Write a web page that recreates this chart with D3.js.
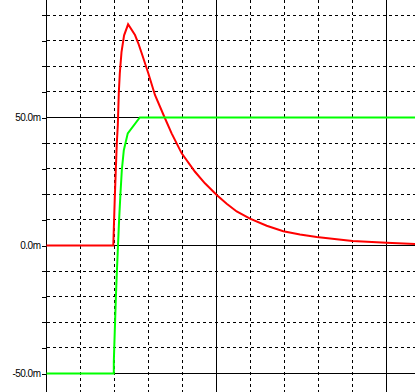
<!DOCTYPE html>
<html>
<head>
<meta charset="utf-8">
<script src="https://cdn.jsdelivr.net/npm/d3@7"></script>
<style>
body { margin: 0; background: #ffffff; }
</style>
</head>
<body>
<script>
//time values (in grid divisions) and voltages (mV) for the red trace
var redT = [0, 1.965, 1.974, 2.009, 2.038, 2.068, 2.097, 2.126, 2.156, 2.206, 2.282, 2.40,
            2.603, 2.70, 2.80, 2.994, 3.19, 3.465, 3.68, 3.976, 4.368, 4.66, 5.006, 5.30,
            5.594, 5.985, 6.476, 6.965, 7.456, 7.947, 8.47, 9.0, 10.0, 10.84];
var redV = [0, 0, 4.0, 18.9, 29.4, 40.0, 47.0, 59.5, 67.3, 75.5, 82.1, 86.4,
            82.2, 79.0, 75.1, 67.3, 58.8, 50.3, 43.8, 36.0, 28.8, 24.3, 19.7, 16.3,
            13.3, 10.5, 7.7, 5.6, 4.3, 3.3, 2.5, 1.8, 1.1, 0.6];

//time values and voltages for the green trace
var greenT = [0, 1.98, 1.98, 2.009, 2.038, 2.068, 2.097, 2.135, 2.176, 2.215, 2.274, 2.39, 2.744, 10.84];
var greenV = [-50, -50, -45.5, -33.0, -21.3, -10.7, -1.8, 9.9, 20.4, 29.4, 37.2, 43.8, 50, 50];

//labelled y ticks
var yTicks = [-50, 0, 50];
var yLabels = ["-50.0m", "0.0m", "50.0m"];

var width = 415;
var height = 392;

//pixel scales, one minor division is 34px wide and 10mV tall
var x = d3.scaleLinear()
  .domain([0, 10])
  .range([46.5, 386.5]);

var y = d3.scaleLinear()
  .domain([-50, 50])
  .range([373.5, 117.5]);

//snaps a coordinate to the pixel grid so the 1px lines stay sharp
function crisp(v) { return Math.round(v - 0.5) + 0.5; }

var svg = d3.select("body").append("svg")
  .attr("width", width)
  .attr("height", height);

//vertical grid lines, solid every 5 divisions
var xGrid = d3.range(0, 11);
svg.selectAll(".vgrid")
  .data(xGrid)
  .enter().append("line")
  .attr("class", "vgrid")
  .attr("x1", function(d) { return crisp(x(d)); })
  .attr("x2", function(d) { return crisp(x(d)); })
  .attr("y1", 0)
  .attr("y2", height)
  .style("stroke", "#000")
  .style("stroke-width", 1)
  .style("shape-rendering", "crispEdges")
  .style("stroke-dasharray", function(d) { return d % 5 == 0 ? null : "3,3"; });

//horizontal grid lines every 10mV, solid at the labelled ticks
var yGrid = d3.range(-50, 100, 10);
svg.selectAll(".hgrid")
  .data(yGrid)
  .enter().append("line")
  .attr("class", "hgrid")
  .attr("x1", x(0))
  .attr("x2", width)
  .attr("y1", function(d) { return crisp(y(d)); })
  .attr("y2", function(d) { return crisp(y(d)); })
  .style("stroke", "#000")
  .style("stroke-width", 1)
  .style("shape-rendering", "crispEdges")
  .style("stroke-dasharray", function(d) { return d % 50 == 0 ? null : "3,3"; });

//left axis with small ticks and labels
var yAxis = d3.axisLeft(y)
  .tickValues(yGrid)
  .tickSize(5)
  .tickSizeOuter(0)
  .tickFormat(function(d) {
    var i = yTicks.indexOf(d);
    return i >= 0 ? yLabels[i] : "";
  });

var axisG = svg.append("g")
  .attr("transform", "translate(" + crisp(x(0)) + ",0)")
  .call(yAxis);

axisG.select(".domain").remove();
axisG.selectAll(".tick line")
  .style("shape-rendering", "crispEdges");
axisG.selectAll(".tick text")
  .attr("x", -6)
  .style("font-family", "'Liberation Sans', Arial, sans-serif")
  .style("font-size", "10px")
  .style("letter-spacing", "-0.5px")
  .style("fill", "#000");

//vertical axis line across the whole height
svg.append("line")
  .attr("x1", crisp(x(0)))
  .attr("x2", crisp(x(0)))
  .attr("y1", 0)
  .attr("y2", height)
  .style("stroke", "#000")
  .style("shape-rendering", "crispEdges");

//line generator for the traces
function traceLine(ts, vs) {
  var pts = ts.map(function(t, i) { return [x(t), y(vs[i])]; });
  return d3.line()(pts);
}

svg.append("path")
  .attr("d", traceLine(redT, redV))
  .style("fill", "none")
  .style("stroke", "#ff0000")
  .style("stroke-width", 2);

svg.append("path")
  .attr("d", traceLine(greenT, greenV))
  .style("fill", "none")
  .style("stroke", "#00ff00")
  .style("stroke-width", 2);
</script>
</body>
</html>
